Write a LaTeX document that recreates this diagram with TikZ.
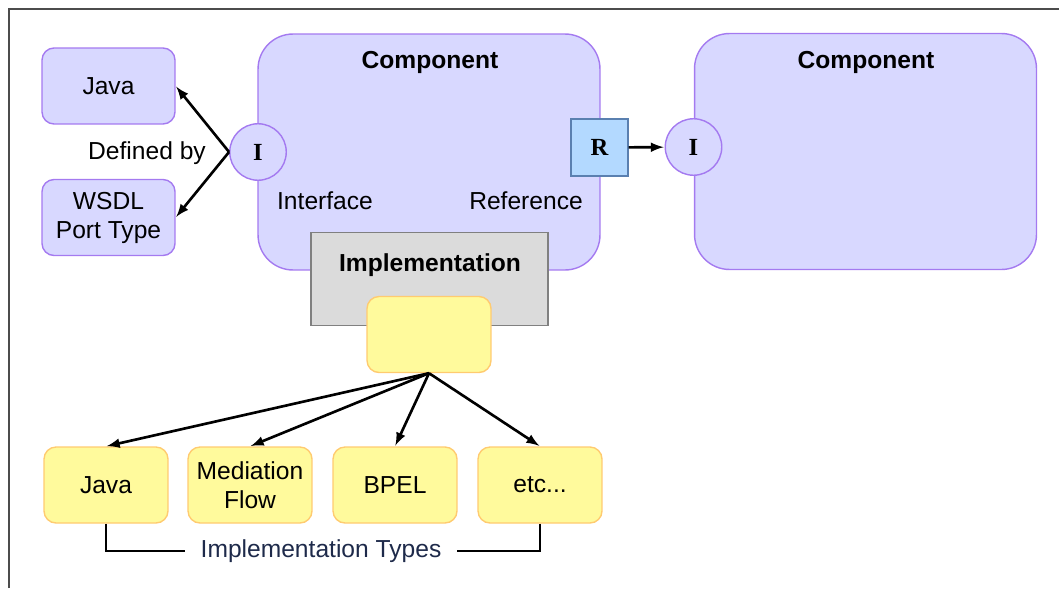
\documentclass[tikz,border=0pt]{standalone}
\usepackage{fontspec}
\setmainfont{Liberation Sans}
\newfontfamily\portfont{Liberation Serif}
\usetikzlibrary{arrows}
\definecolor{compfill}{HTML}{D8D8FF}
\definecolor{compline}{HTML}{A47AF0}
\definecolor{reffill}{HTML}{B3D9FF}
\definecolor{refline}{HTML}{5A80B0}
\definecolor{implfill}{HTML}{DBDBDB}
\definecolor{implline}{HTML}{808080}
\definecolor{typefill}{HTML}{FFFA9C}
\definecolor{typeline}{HTML}{FFCB70}
\definecolor{typestext}{HTML}{1E2A4A}

\begin{document}
\begin{tikzpicture}[x=0.02cm,y=-0.02cm,->,>=latex,shorten >=0.5pt,font=\fontsize{14}{16.5}\selectfont]
    \tikzstyle{every edge}=[draw, line width=1.5pt]
    \tikzstyle{comp}=[rounded corners=0.7cm, fill=compfill, draw=compline, line width=0.8pt, minimum width=6.84cm, minimum height=4.72cm]
    \tikzstyle{defbox}=[rounded corners=0.24cm, fill=compfill, draw=compline, line width=0.8pt, minimum width=2.66cm, minimum height=1.52cm, align=center]
    \tikzstyle{port}=[circle, fill=compfill, draw=compline, line width=0.8pt, minimum size=1.13cm, inner sep=0pt, font=\fontsize{14}{16.5}\portfont\bfseries]
    \tikzstyle{refport}=[fill=reffill, draw=refline, line width=0.8pt, minimum size=1.14cm, inner sep=0pt, font=\fontsize{14}{16.5}\portfont\bfseries]
    \tikzstyle{implarea}=[fill=implfill, draw=implline, line width=0.9pt, minimum width=4.74cm, minimum height=1.86cm]
    \tikzstyle{typebox}=[rounded corners=0.24cm, fill=typefill, draw=typeline, line width=0.8pt, minimum width=2.48cm, minimum height=1.52cm, align=center]
    \tikzstyle{title}=[font=\fontsize{14}{16.5}\selectfont\bfseries]
    \useasboundingbox (0,0) rectangle (1060,588);
    % outer frame
    \draw[-, line width=1.7pt, black!70] (9,588) -- (9,9) -- (1060,9);
    % the two components
    \node[comp] (C1) at (429,152) {};
    \node[comp] (C2) at (865.5,151.5) {};
    \node[title] (C1t) at (430,62) {Component};
    \node[title] (C2t) at (866,62) {Component};
    \node (If) at (325,201) {Interface};
    \node (Rf) at (526,201) {Reference};
    % interface and reference
    \node[port] (I1) at (258,152) {I};
    \node[refport] (R) at (599.5,147.5) {R};
    \node[port] (I2) at (693.5,147) {I};
    \path (R) edge (I2);
    % what defines the interface
    \node[defbox] (J) at (108.5,86) {Java};
    \node[defbox] (W) at (108.5,217.5) {WSDL\\Port Type};
    \node[anchor=east] (D) at (212,153) {Defined by};
    \path (I1.west) edge (J.east);
    \path (I1.west) edge (W.east);
    % implementation
    \node[implarea] (Im) at (429.5,279) {};
    \node[title] (Imt) at (430,265) {Implementation};
    \node[typebox] (Y) at (429,334.5) {};
    % implementation types
    \node[typebox] (T1) at (106,485) {Java};
    \node[typebox] (T2) at (250,485) {Mediation\\Flow};
    \node[typebox] (T3) at (395,485) {BPEL};
    \node[typebox] (T4) at (540,485) {etc...};
    \foreach \t in {T1,T2,T3,T4}
      \path (Y.south) edge (\t.north);
    \node[text=typestext, inner xsep=8pt] (TT) at (321,551) {Implementation Types};
    \draw[-, line width=1pt] (T1.south) |- (TT.west);
    \draw[-, line width=1pt] (T4.south) |- (TT.east);
\end{tikzpicture}
\end{document}
